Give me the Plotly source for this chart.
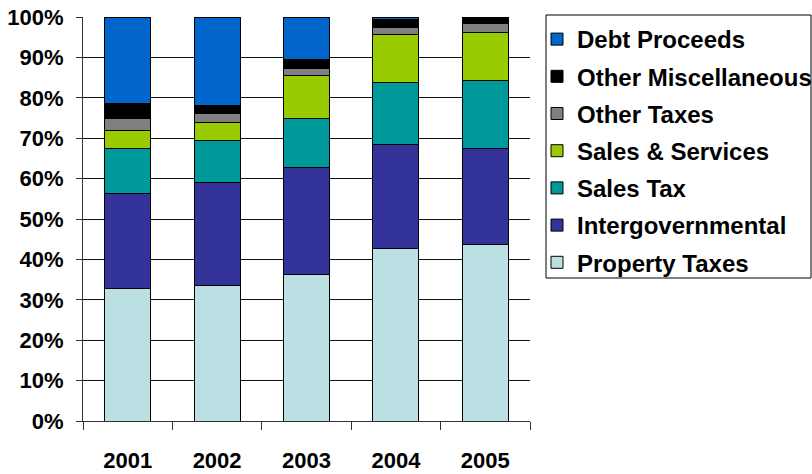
import plotly.graph_objects as go

years = ["2001", "2002", "2003", "2004", "2005"]

property_taxes = [32.8, 33.6, 36.2, 42.7, 43.7]
intergovernmental = [23.4, 25.4, 26.5, 25.8, 23.7]
sales_tax = [11.2, 10.5, 12.2, 15.4, 16.9]
sales_services = [4.6, 4.3, 10.6, 11.8, 11.9]
other_taxes = [3.0, 2.3, 1.8, 1.7, 2.1]
other_misc = [3.6, 2.1, 2.1, 2.1, 1.7]
debt_proceeds = [21.4, 21.8, 10.6, 0.5, 0.0]

series = [
    ("Property Taxes", property_taxes, "#BBE0E3"),
    ("Intergovernmental", intergovernmental, "#333399"),
    ("Sales Tax", sales_tax, "#009999"),
    ("Sales & Services", sales_services, "#99CC00"),
    ("Other Taxes", other_taxes, "#808080"),
    ("Other Miscellaneous", other_misc, "#000000"),
    ("Debt Proceeds", debt_proceeds, "#0066CC"),
]

FONT = "Liberation Sans, Arial, sans-serif"
W, H = 812, 474
L, R, T, B = 83, 282, 17, 53

fig = go.Figure()
n = len(series)
for i, (name, vals, color) in enumerate(series):
    fig.add_trace(go.Bar(
        x=years, y=vals, name=name, legendgroup=f"g{i}",
        legendrank=n - i,
        marker=dict(color=color, line=dict(color="#000000", width=1)),
    ))

pw = W - L - R
ph = H - T - B
# legend frame
fig.add_shape(
    type="rect", xref="paper", yref="paper",
    x0=(546 - L) / pw, x1=(811 - L) / pw,
    y0=(H - B - 278) / ph, y1=(H - B - 15) / ph,
    line=dict(color="black", width=1), fillcolor="rgba(0,0,0,0)",
    layer="above",
)

fig.update_layout(
    barmode="stack",
    bargap=0.485,
    width=W, height=H,
    margin=dict(l=L, r=R, t=T, b=B, autoexpand=False),
    plot_bgcolor="white",
    paper_bgcolor="white",
    font=dict(family=FONT, color="black", size=22, weight="bold"),
    showlegend=True,
    legend=dict(
        xref="container", yref="container",
        x=537 / W, y=1 - 17 / H, xanchor="left", yanchor="top",
        traceorder="grouped",
        tracegroupgap=3,
        maxheight=320,
        borderwidth=0,
        font=dict(family=FONT, size=24, color="black", weight="bold"),
        bgcolor="rgba(0,0,0,0)",
    ),
    xaxis=dict(
        automargin=False,
        showgrid=False,
        showline=True, linecolor="#333333", linewidth=1,
        ticks="outside", ticklen=8, tickcolor="#333333",
        tickson="boundaries",
        ticklabelstandoff=20,
        tickfont=dict(size=22, weight="bold"),
    ),
    yaxis=dict(
        automargin=False,
        range=[0, 100],
        tickvals=[0, 10, 20, 30, 40, 50, 60, 70, 80, 90, 100],
        ticktext=["0%", "10%", "20%", "30%", "40%", "50%", "60%", "70%", "80%", "90%", "100%"],
        showgrid=True, gridcolor="#111111", gridwidth=1,
        showline=True, linecolor="#333333", linewidth=1,
        ticks="outside", ticklen=6, tickcolor="#333333",
        ticklabelstandoff=8,
        tickfont=dict(size=22, weight="bold"),
        zeroline=False,
    ),
)

fig.write_html(
    "out.html",
    config={"displayModeBar": False},
    post_script="document.body.style.margin='0';document.body.style.padding='0';",
)
